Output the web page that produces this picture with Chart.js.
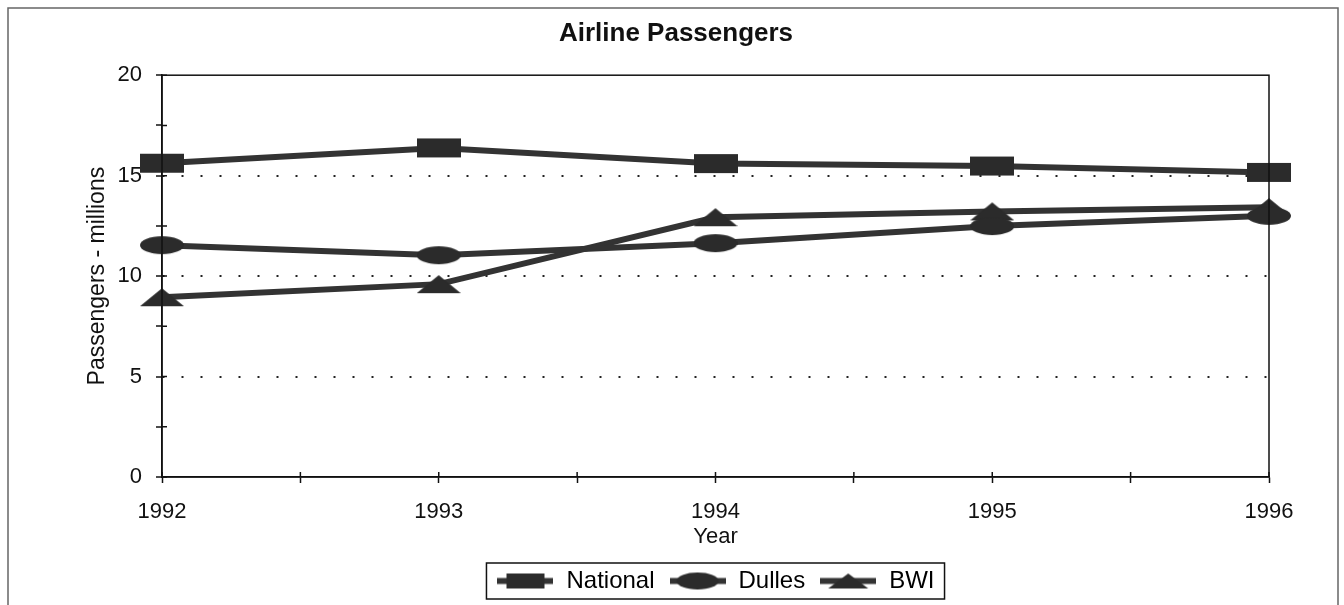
<!DOCTYPE html>
<html>
<head>
<meta charset="utf-8">
<title>Airline Passengers</title>
<script src="https://cdn.jsdelivr.net/npm/chart.js@4/dist/chart.umd.min.js"></script>
<style>
  body { margin: 0; background: #fff; }
  #chart { display: block; }
</style>
</head>
<body>
<canvas id="chart" width="1344" height="605"></canvas>
<script>
// values (millions of passengers)
var years = [1992, 1993, 1994, 1995, 1996];
var national = [15.62, 16.38, 15.6, 15.48, 15.16];
var dulles = [11.54, 11.04, 11.64, 12.49, 13.0];
var bwi = [8.95, 9.6, 12.93, 13.22, 13.43];
var seriesNames = ['National', 'Dulles', 'BWI'];

var FONT = '"Liberation Sans", Arial, Helvetica, sans-serif';
var INK = '#2b2b2b';

// little canvases used as point styles (tail > 0 adds the line stub for the legend)
function marker(kind, w, h, tail){
  var c = document.createElement('canvas');
  c.width = w + tail*2;
  c.height = h + 2;
  var x = c.getContext('2d');
  x.fillStyle = INK;
  x.strokeStyle = '#333';
  if(tail){
    x.lineWidth = 6;
    x.beginPath(); x.moveTo(0, c.height/2); x.lineTo(c.width, c.height/2); x.stroke();
  }
  var l = tail, t = 1;
  x.beginPath();
  if(kind == 'rect') x.rect(l, t, w, h);
  else if(kind == 'ellipse') x.ellipse(l + w/2, t + h/2, w/2, h/2, 0, 0, Math.PI*2);
  else { x.moveTo(l, t+h); x.lineTo(l+w/2, t); x.lineTo(l+w, t+h); x.closePath(); }
  x.fill();
  return c;
}

var pointImgs = [marker('rect', 44, 19, 0), marker('ellipse', 44, 18, 0), marker('tri', 44, 18, 0)];
var legendImgs = [marker('rect', 38, 15, 9), marker('ellipse', 42, 17, 7), marker('tri', 40, 15, 8)];

function pts(vals){
  return years.map(function(y, i){ return {x: y, y: vals[i]}; });
}

function ds(name, vals, i){
  return {
    label: name,
    data: pts(vals),
    borderColor: '#333',
    backgroundColor: INK,
    borderWidth: 6,
    pointStyle: pointImgs[i],
    pointRadius: 22,
    pointHoverRadius: 22,
    tension: 0,
    clip: false
  };
}

// outer frame, plot box, inward tick stubs and legend box
var framePlugin = {
  id: 'frame',
  beforeDraw: function(chart){
    var ctx = chart.ctx;
    ctx.save();
    ctx.fillStyle = '#fff';
    ctx.fillRect(0, 0, chart.width, chart.height);
    ctx.strokeStyle = '#666';
    ctx.lineWidth = 1.5;
    ctx.beginPath();
    ctx.moveTo(8, chart.height); ctx.lineTo(8, 8); ctx.lineTo(1338, 8); ctx.lineTo(1338, chart.height);
    ctx.stroke();
    ctx.restore();
  },
  afterDraw: function(chart){
    var ctx = chart.ctx, a = chart.chartArea;
    ctx.save();
    ctx.strokeStyle = '#111';
    ctx.lineWidth = 1.5;
    ctx.strokeRect(a.left, a.top, a.right - a.left, a.bottom - a.top);
    // ticks cross the axis in the original
    var xs = chart.scales.x, ys = chart.scales.y;
    ctx.beginPath();
    xs.ticks.forEach(function(t){
      var p = xs.getPixelForValue(t.value);
      ctx.moveTo(p, a.bottom); ctx.lineTo(p, a.bottom - 5);
    });
    ys.ticks.forEach(function(t){
      var p = ys.getPixelForValue(t.value);
      ctx.moveTo(a.left, p); ctx.lineTo(a.left + 5, p);
    });
    ctx.stroke();
    var hb = chart.legend.legendHitBoxes;
    if(hb && hb.length){
      var l = 1e9, r = -1e9, t = 1e9, b = -1e9;
      hb.forEach(function(h){
        l = Math.min(l, h.left); r = Math.max(r, h.left + h.width);
        t = Math.min(t, h.top); b = Math.max(b, h.top + h.height);
      });
      ctx.lineWidth = 1.5;
      ctx.strokeRect(l - 10, t - 6, r - l + 20, b - t + 12);
    }
    ctx.restore();
  }
};

var chart = new Chart(document.getElementById('chart'), {
  type: 'line',
  data: {
    datasets: [ds(seriesNames[0], national, 0), ds(seriesNames[1], dulles, 1), ds(seriesNames[2], bwi, 2)]
  },
  options: {
    responsive: false,
    animation: false,
    events: [],
    layout: { padding: { left: 18, right: 10, top: 8, bottom: 2 } },
    scales: {
      x: {
        type: 'linear',
        min: 1992,
        max: 1996,
        afterFit: function(s){ s.height = 78; s.paddingRight = 75; },
        ticks: {
          stepSize: 0.5,
          autoSkip: false,
          maxRotation: 0,
          padding: 16,
          color: '#111',
          font: { family: FONT, size: 22 },
          callback: function(v){ return v % 1 === 0 ? String(v) : ''; }
        },
        grid: { drawOnChartArea: false, tickLength: 6, tickColor: '#111', tickWidth: 1.5 },
        border: { color: '#111', width: 1.5 },
        title: { display: true, text: 'Year', color: '#111', font: { family: FONT, size: 22 }, padding: { top: 0, bottom: 5 } }
      },
      y: {
        min: 0,
        max: 20,
        afterFit: function(s){ s.width = 144; },
        ticks: {
          stepSize: 2.5,
          autoSkip: false,
          padding: 14,
          color: '#111',
          font: { family: FONT, size: 22 },
          callback: function(v){ return v % 5 === 0 ? String(v) : ''; }
        },
        grid: {
          tickLength: 6,
          tickColor: '#111',
          tickWidth: 1.5,
          lineWidth: 2,
          color: function(c){
            var v = c.tick && c.tick.value;
            return (v == 5 || v == 10 || v == 15) ? '#222' : 'rgba(0,0,0,0)';
          }
        },
        border: { color: '#111', width: 1.5, dash: [2, 17] },
        title: { display: true, text: 'Passengers - millions', color: '#111', font: { family: FONT, size: 23 }, padding: { top: 66, bottom: 0 } }
      }
    },
    plugins: {
      title: {
        display: true,
        text: 'Airline Passengers',
        color: '#111',
        font: { family: FONT, size: 26, weight: 'bold' },
        padding: { top: 10, bottom: 26 }
      },
      legend: {
        position: 'bottom',
        fullSize: false,
        labels: {
          usePointStyle: true,
          pointStyleWidth: 58,
          padding: 14,
          color: '#111',
          font: { family: FONT, size: 24 },
          generateLabels: function(chart){
            return chart.data.datasets.map(function(d, i){
              return { text: d.label, pointStyle: legendImgs[i], fillStyle: INK, strokeStyle: INK, lineWidth: 0, datasetIndex: i };
            });
          }
        }
      },
      tooltip: { enabled: false }
    }
  },
  plugins: [framePlugin]
});
</script>
</body>
</html>
